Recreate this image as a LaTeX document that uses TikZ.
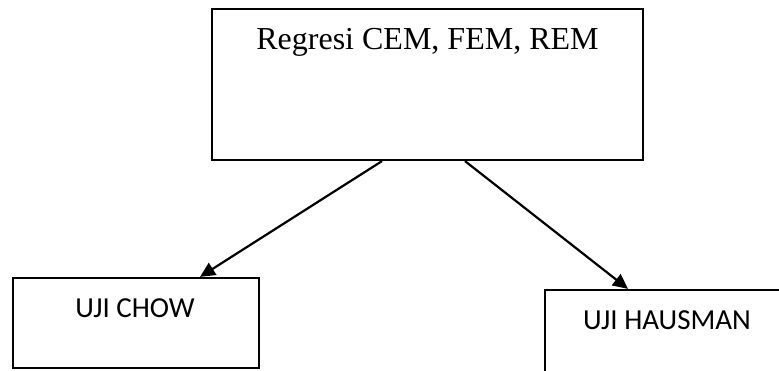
\documentclass[tikz,border=0pt]{standalone}
\usepackage{fontspec}
\setmainfont{Liberation Serif}
\newfontfamily\calfont{Carlito}
\usetikzlibrary{arrows.meta}
\begin{document}
\begin{tikzpicture}[x=1pt,y=-1pt,
  boxstyle/.style={draw=black, line width=2.2pt, fill=white, inner sep=0pt, rectangle},
  arrowstyle/.style={line width=2.2pt, -{Triangle[length=15pt,width=14pt]}},
  captionsans/.style={font=\calfont\fontsize{29}{33}\selectfont, anchor=base, inner sep=0pt},
  captionserif/.style={font=\fontsize{32}{38}\selectfont, anchor=base, inner sep=0pt}]
\useasboundingbox (0,0) rectangle (779,371);
\clip (0,0) rectangle (779,371);
\node[boxstyle, minimum width=431pt, minimum height=151pt] (top) at (427.5,84.5) {};
\node[captionserif] (toptext) at (427.5,50) {Regresi CEM, FEM, REM};
\node[boxstyle, minimum width=246pt, minimum height=90pt] (chow) at (136,323) {};
\node[captionsans] (chowtext) at (135,318) {UJI CHOW};
\node[boxstyle, minimum width=244pt, minimum height=90pt] (haus) at (667,335) {};
\node[captionsans] (haustext) at (667,330) {UJI HAUSMAN};
\draw[arrowstyle] ([xshift=-45.5pt]top.south) -- ([xshift=64pt]chow.north);
\draw[arrowstyle] ([xshift=37.5pt]top.south) -- ([xshift=-39pt]haus.north);
\end{tikzpicture}
\end{document}
